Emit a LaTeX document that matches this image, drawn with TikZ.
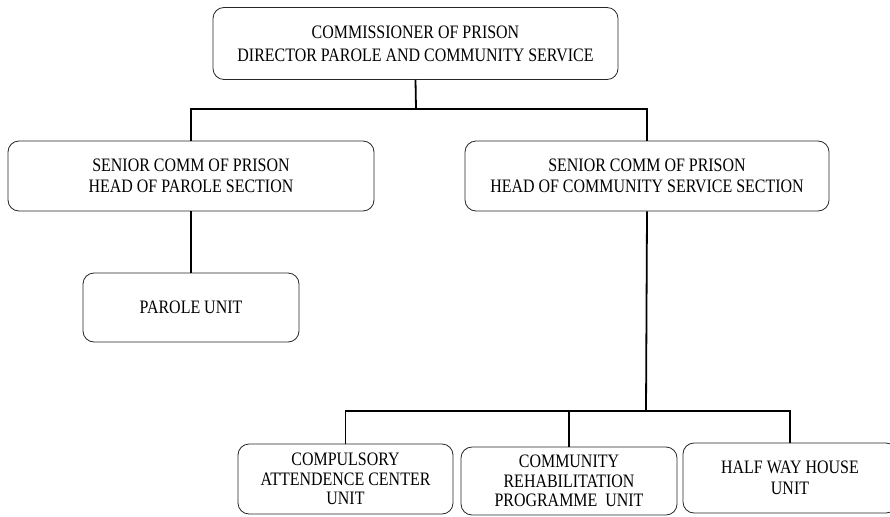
\documentclass[tikz,border=0pt]{standalone}
\usepackage{fontspec}
\setmainfont{Liberation Serif}[FakeStretch=0.84]

\begin{document}
\begin{tikzpicture}[x=1pt,y=-1pt,
    unitbox/.style={draw=black!85,line width=0.8pt,rounded corners=11pt,
      align=center,inner sep=0pt,font=\fontsize{19}{21}\selectfont},
    link/.style={line width=1.8pt}]
    \useasboundingbox (0,0) rectangle (890,516);
    \clip (0,0) rectangle (890,516);
    % top
    \node[unitbox,minimum width=405pt,minimum height=72pt,
      font=\fontsize{19}{23}\selectfont] (cp) at (415.5,43.5)
      {COMMISSIONER OF PRISON\\DIRECTOR PAROLE AND COMMUNITY SERVICE};
    % sections
    \node[unitbox,minimum width=366pt,minimum height=70pt] (ps) at (191,176)
      {SENIOR COMM OF PRISON\\HEAD OF PAROLE SECTION};
    \node[unitbox,minimum width=364pt,minimum height=70pt] (cs) at (647,176)
      {SENIOR COMM OF PRISON\\HEAD OF COMMUNITY SERVICE SECTION};
    \node[unitbox,minimum width=216pt,minimum height=69pt] (pu) at (191,307.5)
      {PAROLE UNIT};
    % units
    \node[unitbox,minimum width=215pt,minimum height=70pt,
      font=\fontsize{19}{19.5}\selectfont] (ca) at (345.5,479)
      {COMPULSORY\\ATTENDENCE CENTER\\UNIT};
    \node[unitbox,minimum width=216pt,minimum height=68pt,
      font=\fontsize{19}{19.5}\selectfont] (cr) at (569,481)
      {COMMUNITY\\REHABILITATION\\PROGRAMME~ UNIT};
    \node[unitbox,minimum width=214pt,minimum height=70pt] (hw) at (790,478)
      {HALF WAY HOUSE\\UNIT};

    \coordinate (j1) at (416,109);
    \coordinate (j2) at (646,411);
    \draw[link] (cp.south) -- (j1);
    \draw[link] (ps.north) -- (ps.north |- j1) -- (cs.north |- j1) -- (cs.north);
    \draw[link] (ps.south) -- (pu.north);
    \draw[link] (cs.south) -- (j2);
    \draw[link] (ca.north) -- (ca.north |- j2) -- (hw.north |- j2) -- (hw.north);
    \draw[link] (cr.north) -- (cr.north |- j2);
\end{tikzpicture}
\end{document}
